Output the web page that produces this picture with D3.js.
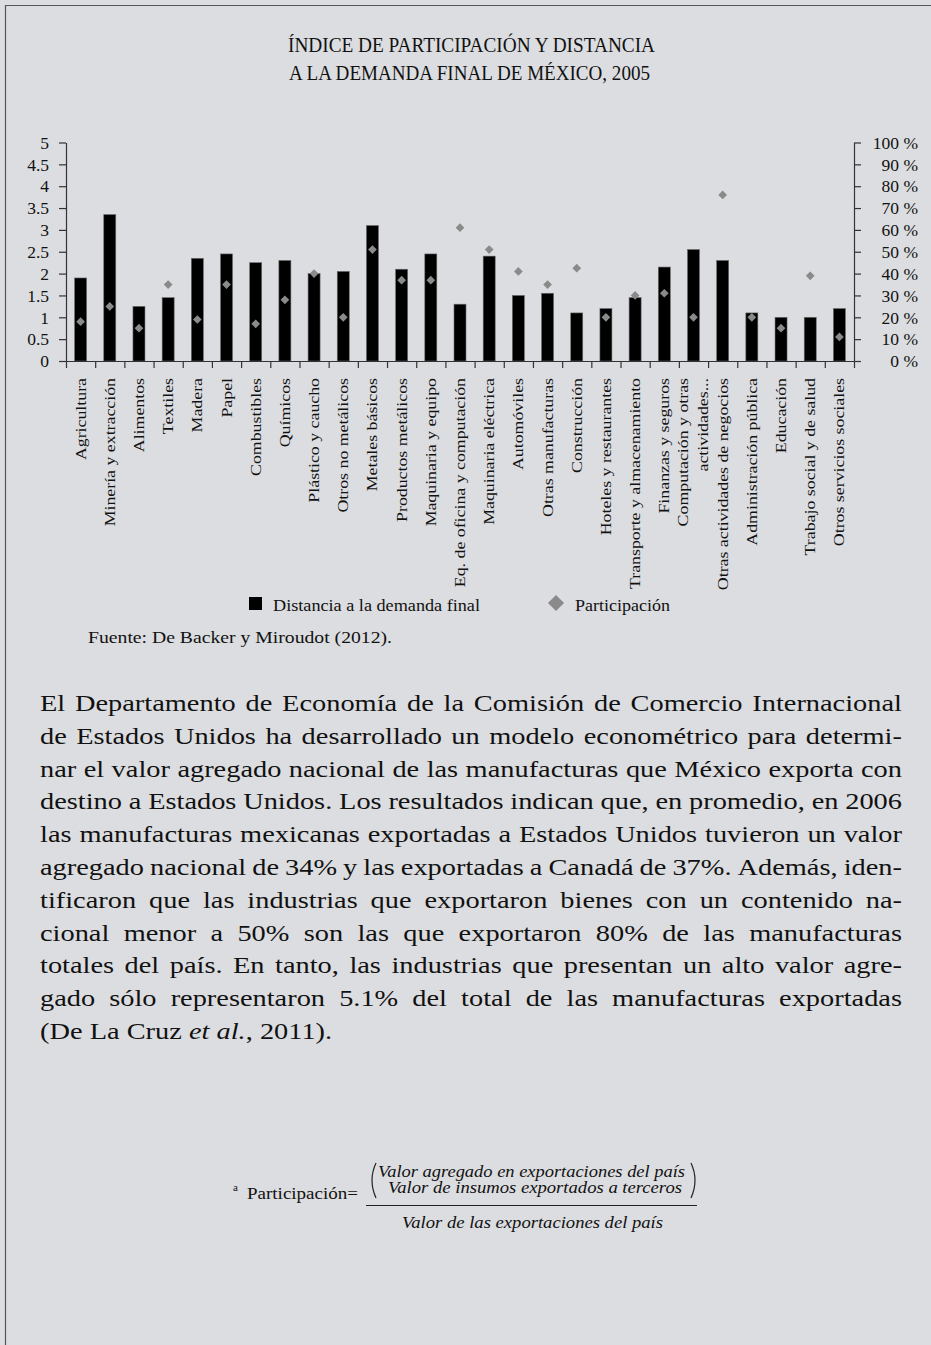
<!DOCTYPE html>
<html>
<head>
<meta charset="utf-8">
<script src="https://cdn.jsdelivr.net/npm/d3@7"></script>
<style>
  html, body { margin: 0; padding: 0; background: #dcdde0; }
  svg { display: block; }
  text { font-family: "Liberation Serif", "DejaVu Serif", serif; fill: #111; }
</style>
</head>
<body>
<script>
// ---------------- DATA ----------------
const titleLines = ["ÍNDICE DE PARTICIPACIÓN Y DISTANCIA", "A LA DEMANDA FINAL DE MÉXICO, 2005"];
const categories = ["Agricultura", "Minería y extracción", "Alimentos", "Textiles", "Madera", "Papel",
  "Combustibles", "Químicos", "Plástico y caucho", "Otros no metálicos", "Metales básicos",
  "Productos metálicos", "Maquinaria y equipo", "Eq. de oficina y computación", "Maquinaria eléctrica",
  "Automóviles", "Otras manufacturas", "Construcción", "Hoteles y restaurantes",
  "Transporte y almacenamiento", "Finanzas y seguros", "Computación y otras|actividades...",
  "Otras actividades de negocios", "Administración pública", "Educación",
  "Trabajo social y de salud", "Otros servicios sociales"];
const distancia = [1.9, 3.35, 1.25, 1.45, 2.35, 2.45, 2.25, 2.3, 2.0, 2.05, 3.1, 2.1, 2.45, 1.3, 2.4,
  1.5, 1.55, 1.1, 1.2, 1.45, 2.15, 2.55, 2.3, 1.1, 1.0, 1.0, 1.2];
const participacion = [18, 25, 15, 35, 19, 35, 17, 28, 40, 20, 51, 37, 37, 61, 51, 41, 35, 42.5, 20,
  30, 31, 20, 76, 20, 15, 39, 11];
const leftTicks = [0, 0.5, 1, 1.5, 2, 2.5, 3, 3.5, 4, 4.5, 5];
const rightTicks = [0, 10, 20, 30, 40, 50, 60, 70, 80, 90, 100];
const legendLabels = ["Distancia a la demanda final", "Participación"];
const sourceText = "Fuente: De Backer y Miroudot (2012).";
const bodyLines = [
  "El Departamento de Economía de la Comisión de Comercio Internacional",
  "de Estados Unidos ha desarrollado un modelo econométrico para determi-",
  "nar el valor agregado nacional de las manufacturas que México exporta con",
  "destino a Estados Unidos. Los resultados indican que, en promedio, en 2006",
  "las manufacturas mexicanas exportadas a Estados Unidos tuvieron un valor",
  "agregado nacional de 34% y las exportadas a Canadá de 37%. Además, iden-",
  "tificaron que las industrias que exportaron bienes con un contenido na-",
  "cional menor a 50% son las que exportaron 80% de las manufacturas",
  "totales del país. En tanto, las industrias que presentan un alto valor agre-",
  "gado sólo representaron 5.1% del total de las manufacturas exportadas",
  "(De La Cruz *et al.*, 2011)."
];
const formulaNumerator = ["Valor agregado en exportaciones del país", "Valor de insumos exportados a terceros"];
const formulaDenominator = "Valor de las exportaciones del país";
const formulaLabel = "Participación=";

// ---------------- LAYOUT ----------------
const W = 931, H = 1345;
const svg = d3.select("body").append("svg").attr("width", W).attr("height", H);
svg.append("rect").attr("width", W).attr("height", H).attr("fill", "#dcdde0");
svg.append("path").attr("d", `M5.5,${H} V5.5 H${W}`).attr("fill", "none").attr("stroke", "#555").attr("stroke-width", 1.2);

function fit(sel, w) { return sel.attr("textLength", w).attr("lengthAdjust", "spacingAndGlyphs"); }

// Title
fit(svg.append("text").attr("x", 288).attr("y", 52).attr("font-size", 21).text(titleLines[0]), 367);
fit(svg.append("text").attr("x", 289).attr("y", 80).attr("font-size", 21).text(titleLines[1]), 361);

const x0 = 66, x1 = 854, yTop = 142.5, yBot = 361;
const x = d3.scaleBand().domain(categories).range([x0, x1]).padding(0);
const yL = d3.scaleLinear().domain([0, 5]).range([yBot, yTop]);
const yR = d3.scaleLinear().domain([0, 100]).range([yBot, yTop]);
const barW = 12;

// Bars
svg.append("g").selectAll("rect").data(categories).join("rect")
  .attr("x", d => x(d) + x.bandwidth() / 2 - barW / 2)
  .attr("y", (d, i) => yL(distancia[i]))
  .attr("width", barW)
  .attr("height", (d, i) => yBot - yL(distancia[i]))
  .attr("fill", "#000").attr("stroke", "#6a6a6a").attr("stroke-width", 0.6);

// Diamonds
const diamond = d3.symbol().type(d3.symbolSquare).size(38);
svg.append("g").selectAll("path").data(categories).join("path")
  .attr("d", diamond)
  .attr("transform", (d, i) => `translate(${x(d) + x.bandwidth() / 2},${yR(participacion[i])}) rotate(45)`)
  .attr("fill", "#8a8a8a");

// Axes
function styleAxis(g) {
  g.selectAll("path.domain").attr("stroke", "#333").attr("stroke-width", 1.2);
  g.selectAll(".tick line").attr("stroke", "#333").attr("stroke-width", 1.2);
  g.selectAll(".tick text").attr("font-size", 17.5).attr("font-family", "Liberation Serif, serif").attr("fill", "#111");
}
const gL = svg.append("g").attr("transform", `translate(${x0},0)`)
  .call(d3.axisLeft(yL).tickValues(leftTicks).tickSize(7).tickSizeOuter(0).tickPadding(10).tickFormat(d => String(d)));
styleAxis(gL);
gL.selectAll(".tick text").attr("dy", "0.33em");

const gR = svg.append("g").attr("transform", `translate(${x1},0)`)
  .call(d3.axisRight(yR).tickValues(rightTicks).tickSize(7).tickSizeOuter(0).tickFormat(d => d + " %"));
styleAxis(gR);
gR.selectAll(".tick text").attr("x", 64).attr("text-anchor", "end").attr("dy", "0.33em");

const idx = d3.scaleLinear().domain([0, categories.length]).range([x0, x1]);
const gB = svg.append("g").attr("transform", `translate(0,${yBot})`)
  .call(d3.axisBottom(idx).tickValues(d3.range(categories.length + 1)).tickSize(7).tickSizeOuter(0).tickFormat(""));
styleAxis(gB);

// Category labels
const labG = svg.append("g");
categories.forEach(c => {
  const cx = x(c) + x.bandwidth() / 2;
  const parts = c.split("|");
  const t = labG.append("text")
    .attr("transform", `translate(${cx},378) rotate(-90) scale(1.15,1)`)
    .attr("text-anchor", "end").attr("font-size", 15.5);
  if (parts.length === 1) {
    t.append("tspan").attr("x", 0).attr("y", 5).text(parts[0]);
  } else {
    t.append("tspan").attr("x", 0).attr("y", -5.5).text(parts[0]);
    t.append("tspan").attr("x", 0).attr("y", 15).text(parts[1]);
  }
});

// Legend
svg.append("rect").attr("x", 249).attr("y", 597).attr("width", 13).attr("height", 13).attr("fill", "#000");
fit(svg.append("text").attr("x", 273).attr("y", 611).attr("font-size", 17.5).text(legendLabels[0]), 207);
svg.append("path").attr("d", d3.symbol().type(d3.symbolSquare).size(130))
  .attr("transform", "translate(556,603) rotate(45)").attr("fill", "#8a8a8a");
fit(svg.append("text").attr("x", 575).attr("y", 611).attr("font-size", 17.5).text(legendLabels[1]), 95);

// Source
fit(svg.append("text").attr("x", 88).attr("y", 643).attr("font-size", 17.5).text(sourceText), 304);

// Body text (justified)
const bodyG = svg.append("g");
const fs = 23.5, left = 40, target = 862, lh = 32.8, firstBase = 711;
function parseWords(line) {
  let ital = false;
  return line.split(" ").map(w => {
    const pieces = [];
    let cur = "";
    for (const ch of w) {
      if (ch === "*") { if (cur) pieces.push({ t: cur, i: ital }); cur = ""; ital = !ital; }
      else cur += ch;
    }
    if (cur) pieces.push({ t: cur, i: ital });
    return pieces;
  });
}
function makeWord(g, pieces) {
  const t = g.append("text").attr("font-size", fs);
  pieces.forEach(p => t.append("tspan").attr("font-style", p.i ? "italic" : "normal").text(p.t));
  return t;
}
const probe = bodyG.append("text").attr("font-size", fs).text("a a");
const probe2 = bodyG.append("text").attr("font-size", fs).text("aa");
const spaceW = probe.node().getComputedTextLength() - probe2.node().getComputedTextLength();
probe.remove(); probe2.remove();
const lineData = bodyLines.map((ln, i) => {
  const g = bodyG.append("g");
  const words = parseWords(ln).map(p => makeWord(g, p));
  const widths = words.map(w => w.node().getComputedTextLength());
  const total = d3.sum(widths);
  return { g, words, widths, total, natural: total + (words.length - 1) * spaceW };
});
const just = lineData.slice(0, -1);
const sMed = d3.median(just, d => target / d.natural);
const sMax = d3.min(just, d => target / (d.total + (d.words.length - 1) * 0.85 * spaceW));
const s = Math.min(sMed, sMax);
lineData.forEach((d, i) => {
  const last = i === lineData.length - 1;
  const gap = last ? spaceW : (target / s - d.total) / (d.words.length - 1);
  d.g.attr("transform", `translate(${left},${firstBase + i * lh}) scale(${s},1)`);
  let cx = 0;
  d.words.forEach((w, k) => { w.attr("x", cx); cx += d.widths[k] + gap; });
});

// Formula
svg.append("text").attr("x", 233).attr("y", 1191).attr("font-size", 11).text("a");
fit(svg.append("text").attr("x", 247).attr("y", 1199).attr("font-size", 17.5).text(formulaLabel), 111);
svg.append("line").attr("x1", 366).attr("x2", 697).attr("y1", 1205.5).attr("y2", 1205.5)
  .attr("stroke", "#222").attr("stroke-width", 1);
fit(svg.append("text").attr("x", 378).attr("y", 1177).attr("font-size", 16).attr("font-style", "italic").text(formulaNumerator[0]), 307);
fit(svg.append("text").attr("x", 388).attr("y", 1193).attr("font-size", 16).attr("font-style", "italic").text(formulaNumerator[1]), 294);
fit(svg.append("text").attr("x", 402).attr("y", 1228).attr("font-size", 16).attr("font-style", "italic").text(formulaDenominator), 261);
svg.append("path").attr("d", "M376,1163 Q368,1180 376,1198").attr("fill", "none").attr("stroke", "#222").attr("stroke-width", 1.2);
svg.append("path").attr("d", "M691,1163 Q699,1180 691,1198").attr("fill", "none").attr("stroke", "#222").attr("stroke-width", 1.2);
</script>
</body>
</html>
